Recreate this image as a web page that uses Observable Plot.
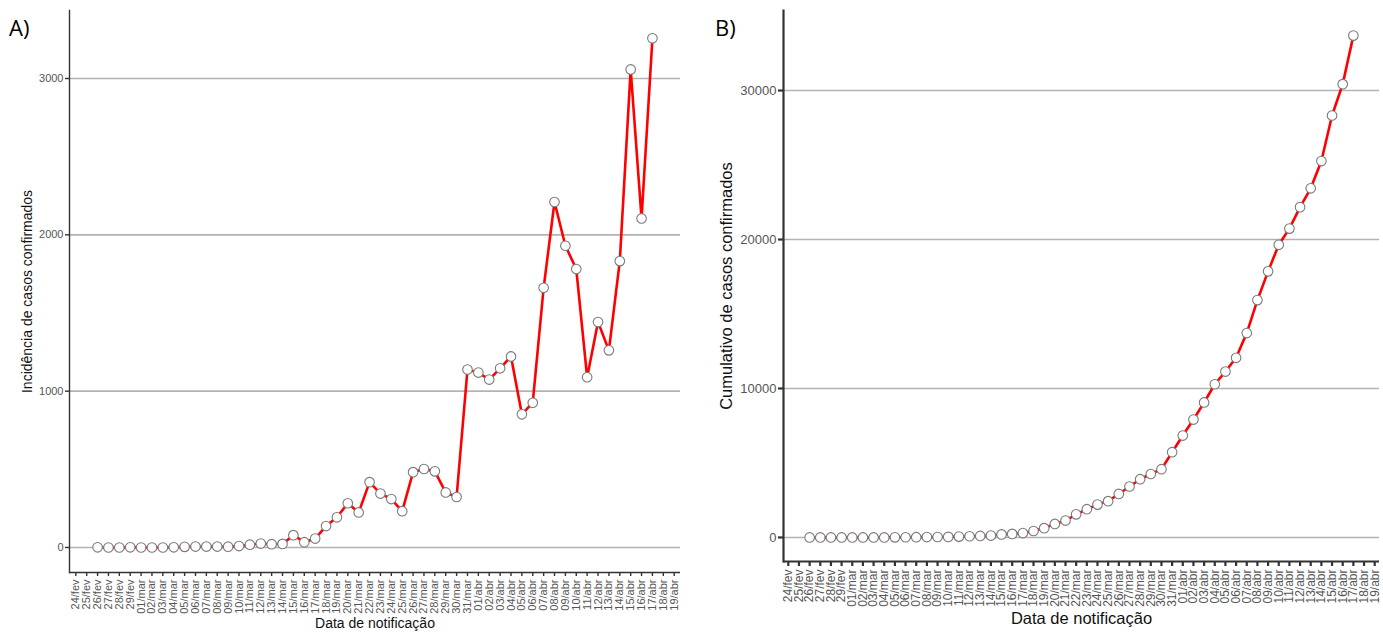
<!DOCTYPE html>
<html>
<head>
<meta charset="utf-8">
<script src="https://cdn.jsdelivr.net/npm/d3@7"></script>
<script src="https://cdn.jsdelivr.net/npm/@observablehq/plot@0.6"></script>
<style>
  body { margin: 0; background: #fff; }
  #wrap { position: relative; width: 1383px; height: 633px; overflow: hidden; background: #fff; }
  .panel { position: absolute; top: 0; }
  .tag { position: absolute; font-family: "Open Sans", sans-serif; font-size: 22px; color: #000; line-height: 1; }
</style>
</head>
<body>
<div id="wrap">
  <div id="pA" class="panel" style="left:0px"></div>
  <div id="pB" class="panel" style="left:700px"></div>
  <div class="tag" style="left:9px;top:16px">A)</div>
  <div class="tag" style="left:715px;top:16px">B)</div>
</div>
<script>
// All x-axis tick labels (day by day)
const tickLabels = [
  "24/fev","25/fev","26/fev","27/fev","28/fev","29/fev",
  "01/mar","02/mar","03/mar","04/mar","05/mar","06/mar","07/mar","08/mar","09/mar","10/mar",
  "11/mar","12/mar","13/mar","14/mar","15/mar","16/mar","17/mar","18/mar","19/mar","20/mar",
  "21/mar","22/mar","23/mar","24/mar","25/mar","26/mar","27/mar","28/mar","29/mar","30/mar","31/mar",
  "01/abr","02/abr","03/abr","04/abr","05/abr","06/abr","07/abr","08/abr","09/abr","10/abr",
  "11/abr","12/abr","13/abr","14/abr","15/abr","16/abr","17/abr","18/abr","19/abr"
];

// Dates with observations
const dataDates = [
  "26/fev","27/fev","28/fev","29/fev",
  "01/mar","02/mar","03/mar","04/mar","05/mar","06/mar","07/mar","08/mar","09/mar","10/mar",
  "11/mar","12/mar","13/mar","14/mar","15/mar","16/mar","17/mar","18/mar","19/mar","20/mar",
  "21/mar","22/mar","23/mar","24/mar","25/mar","26/mar","27/mar","28/mar","29/mar","30/mar","31/mar",
  "01/abr","02/abr","03/abr","04/abr","05/abr","06/abr","07/abr","08/abr","09/abr","10/abr",
  "11/abr","12/abr","13/abr","14/abr","15/abr","16/abr","17/abr"
];

// A) Daily incidence of confirmed cases
const incidence = [
  1, 0, 0, 1,
  0, 0, 0, 1, 4, 6, 6, 6, 5, 9,
  18, 25, 21, 23, 79, 34, 57, 137, 193, 283,
  224, 418, 345, 310, 232, 482, 502, 487, 352, 323, 1138,
  1119, 1074, 1146, 1222, 852, 926, 1661, 2210, 1930, 1781,
  1089, 1442, 1261, 1832, 3058, 2105, 3257
];

// B) Cumulative confirmed cases
const cumulative = [
  1, 1, 1, 2,
  2, 2, 2, 3, 7, 13, 19, 25, 30, 39,
  57, 82, 103, 126, 205, 239, 296, 433, 626, 909,
  1133, 1551, 1896, 2206, 2438, 2920, 3422, 3909, 4261, 4584, 5722,
  6841, 7915, 9061, 10283, 11135, 12061, 13722, 15932, 17862, 19643,
  20732, 22174, 23435, 25267, 28325, 30430, 33687
];

const yTicksA = [0, 1000, 2000, 3000];
const yTicksB = [0, 10000, 20000, 30000];

const FONT = "'Liberation Sans', Arial, sans-serif";

function panel(cfg) {
  const data = dataDates.map((d, i) => ({date: d, value: cfg.values[i]}));
  return Plot.plot({
    width: cfg.width, height: 633,
    marginLeft: cfg.ml, marginRight: cfg.mr, marginTop: 10, marginBottom: cfg.mb,
    style: {fontFamily: FONT, background: "white", overflow: "visible"},
    x: {type: "point", domain: tickLabels, padding: cfg.pad, label: null},
    y: {domain: cfg.ydom, label: null},
    marks: [
      Plot.gridY(cfg.yticks, {stroke: "#b3b3b3", strokeOpacity: 1, strokeWidth: 1.6}),
      Plot.axisY(cfg.yticks, {tickSize: cfg.tick, tickPadding: 2, fontSize: cfg.yfs, color: "#555", stroke: "#333", fill: "#555", strokeWidth: cfg.axw, tickFormat: d => String(d), label: null}),
      Plot.axisX({tickSize: cfg.tick, tickPadding: 3, tickRotate: -90, fontSize: cfg.xfs, color: "#555", stroke: "#333", fill: "#555", strokeWidth: cfg.axw, label: null}),
      Plot.ruleY([cfg.ydom[0]], {stroke: "#333", strokeWidth: cfg.axw}),
      Plot.frame({anchor: "left", stroke: "#333", strokeWidth: cfg.axw}),
      Plot.line(data, {x: "date", y: "value", stroke: "#ff0000", strokeWidth: 2.6}),
      Plot.dot(data, {x: "date", y: "value", r: 4.8, fill: "white", stroke: "#7a7a7a", strokeWidth: 1.1}),
      Plot.text([cfg.xtitle], {frameAnchor: "bottom", textAnchor: "middle", dy: cfg.xdy, fontSize: cfg.xtfs, fill: "#111", text: d => d, fontFamily: FONT}),
      Plot.text([cfg.ytitle], {frameAnchor: "left", textAnchor: "middle", dx: cfg.ydx, rotate: -90, fontSize: cfg.ytfs, fill: "#111", text: d => d, fontFamily: FONT})
    ]
  });
}

document.getElementById("pA").append(panel({
  values: incidence, width: 690, ml: 69, mr: 10, mb: 61, pad: 0.58,
  ydom: [-160, 3435], yticks: yTicksA, tick: 4, yfs: 11, xfs: 11, axw: 1.4,
  xtitle: "Data de notificação", xdy: 55, xtfs: 14,
  ytitle: "Incidência de casos confirmados", ydx: -42, ytfs: 14
}));

document.getElementById("pB").append(panel({
  values: cumulative, width: 683, ml: 83, mr: 4, mb: 72, pad: 0.45,
  ydom: [-1614, 35373], yticks: yTicksB, tick: 5, yfs: 13, xfs: 12, axw: 2.2,
  xtitle: "Data de notificação", xdy: 62, xtfs: 16.5,
  ytitle: "Cumulativo de casos confirmados", ydx: -57, ytfs: 16.5
}));
</script>
</body>
</html>
